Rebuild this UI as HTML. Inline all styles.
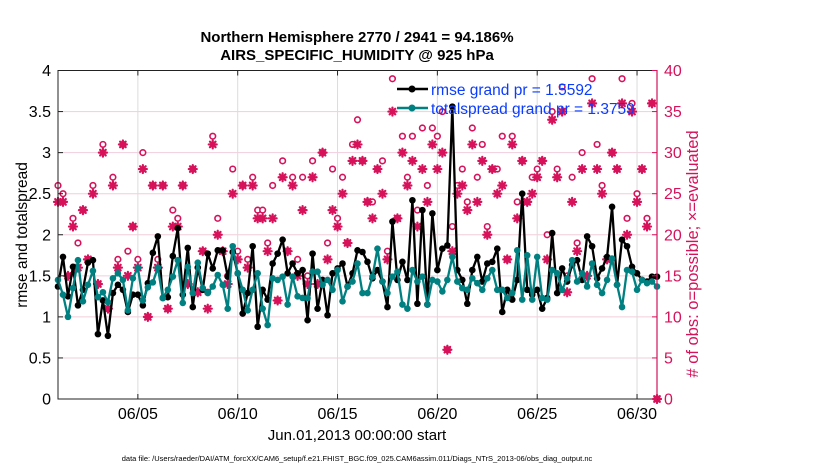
<!DOCTYPE html>
<html><head><meta charset="utf-8"><style>
body{margin:0;background:#fff;}
svg{display:block;font-family:"Liberation Sans",Arial,sans-serif;}
</style></head><body>
<svg id="chart" width="830" height="470" viewBox="0 0 830 470">
<g id="grid"></g>
<g id="marks"></g>
<g id="axes"></g>
<text x="357" y="42" font-size="15" font-weight="bold" text-anchor="middle">Northern Hemisphere 2770 / 2941 = 94.186%</text>
<text x="357" y="60" font-size="15" font-weight="bold" text-anchor="middle">AIRS_SPECIFIC_HUMIDITY @ 925 hPa</text>
<text transform="translate(27,235) rotate(-90)" font-size="15.5" text-anchor="middle">rmse and totalspread</text>
<text transform="translate(698,254) rotate(-90)" font-size="16.5" fill="#d6125a" text-anchor="middle"># of obs: o=possible; ×=evaluated</text>
<text x="357" y="440" font-size="15" text-anchor="middle">Jun.01,2013 00:00:00 start</text>
<text x="357" y="461" font-size="7.5" text-anchor="middle">data file: /Users/raeder/DAI/ATM_forcXX/CAM6_setup/f.e21.FHIST_BGC.f09_025.CAM6assim.011/Diags_NTrS_2013-06/obs_diag_output.nc</text>
<g id="legend">
 <line x1="397" y1="89" x2="428" y2="89" stroke="#000" stroke-width="2.5"/>
 <circle cx="412" cy="89" r="3.5" fill="#000"/>
 <text x="431" y="95" font-size="15.5" fill="#0a3cff">rmse grand pr = 1.5592</text>
 <line x1="397" y1="108" x2="428" y2="108" stroke="#008080" stroke-width="2.5"/>
 <circle cx="412" cy="108" r="3.5" fill="#008080"/>
 <text x="431" y="114" font-size="15.5" fill="#0a3cff">totalspread grand pr = 1.3759</text>
</g>
</svg>
<script>
const rmse=[1.37,1.73,1.25,1.61,1.14,1.33,1.66,1.69,0.79,1.2,0.77,1.29,1.39,1.33,1.06,1.27,1.27,1.14,1.41,1.78,1.98,1.23,1.24,1.74,2.08,1.27,1.84,1.12,1.6,1.33,1.77,
1.59,1.81,1.81,1.49,1.79,1.53,1.04,1.29,1.86,0.88,1.33,1.21,1.65,1.77,1.94,1.53,1.65,1.53,1.57,0.96,1.77,1.10,1.45,1.02,1.53,1.59,1.65,1.37,1.53,1.81,
1.79,1.67,1.47,1.57,1.43,1.12,2.16,1.45,1.67,1.45,2.42,1.16,2.30,1.15,2.26,1.57,1.83,1.87,3.56,1.57,1.45,1.16,1.57,1.73,1.43,1.65,1.67,1.83,1.06,1.33,
1.21,1.45,2.50,1.33,1.27,1.33,1.10,1.23,2.02,1.29,1.59,1.43,1.63,1.69,1.45,1.98,1.86,1.47,1.59,1.73,2.34,1.39,1.94,1.86,1.61,1.53,1.45,1.43,1.49,1.49];
const spread=[1.45,1.27,1.0,1.35,1.69,1.19,1.39,1.56,1.24,1.3,1.18,1.47,1.53,1.45,1.08,1.47,1.6,1.2,1.36,1.42,1.6,1.23,1.33,1.49,1.69,1.17,1.61,1.29,1.66,1.35,1.29,
1.37,1.51,1.39,1.10,1.86,1.53,1.33,1.08,1.33,1.53,1.10,0.90,1.47,1.45,1.49,1.15,1.49,1.25,1.23,1.23,1.55,1.55,1.39,1.45,1.33,1.57,1.19,1.37,1.43,1.65,
1.29,1.29,1.49,1.83,1.43,1.29,1.49,1.55,1.15,1.10,1.57,1.43,1.49,1.15,1.45,1.43,1.31,1.45,1.73,1.43,1.35,1.33,1.47,1.41,1.33,1.47,1.57,1.33,1.33,1.23,
1.29,1.81,1.21,1.75,1.21,1.73,1.23,1.21,1.57,1.53,1.33,1.47,1.69,1.43,1.53,1.37,1.65,1.39,1.29,1.45,1.71,1.39,1.12,1.57,1.55,1.33,1.45,1.41,1.43,1.37];
const possible=[26,25,15,22,19,23,17,26,14,31,11,27,17,31,18,21,17,30,10,26,17,26,11,23,22,26,14,28,13,18,13,
32,22,18,15,28,18,26,17,27,23,23,19,26,12,29,18,27,17,27,15,29,14,30,19,28,22,27,19,31,34,
29,24,24,28,29,18,39,22,32,27,32,23,33,26,33,32,35,6,21,26,28,24,33,27,31,21,28,28,32,17,
32,24,29,24,27,28,29,20,35,28,38,15,27,19,30,15,39,31,26,17,30,28,39,22,36,25,28,22,36,0];
const evaluated=[24,24,15,21,16,23,17,25,14,30,11,26,16,31,15,21,16,28,10,26,16,26,11,21,21,26,14,28,13,18,11,
31,20,18,14,25,17,26,16,26,22,22,18,22,12,27,18,26,15,23,14,27,14,30,17,23,21,25,19,29,31,
29,24,22,28,25,17,35,22,30,26,29,21,28,24,31,28,30,6,18,25,26,23,31,24,29,20,28,25,26,17,
31,22,29,24,25,27,29,17,34,27,35,13,24,18,28,15,36,28,25,17,30,28,36,20,35,24,28,21,36,0];
const dateTicks=[5,10,15,20,25,30];
const dateLabels=["06/05","06/10","06/15","06/20","06/25","06/30"];
const leftTicks=[0,0.5,1,1.5,2,2.5,3,3.5,4];
const rightTicks=[0,5,10,15,20,25,30,35,40];

const X0=58,X1=657,Y0=399,Y1=70.5,T0=1,T1=31;
const xs=t=>X0+(t-T0)/(T1-T0)*(X1-X0);
const yl=v=>Y0-v/4*(Y0-Y1);
const yr=c=>Y0-c/40*(Y0-Y1);
const tOf=i=>1+i*0.25;
const NS="http://www.w3.org/2000/svg";
function mk(tag,attrs,parent){const e=document.createElementNS(NS,tag);for(const k in attrs)e.setAttribute(k,attrs[k]);parent.appendChild(e);return e;}
const grid=document.getElementById('grid'),marks=document.getElementById('marks'),axes=document.getElementById('axes');
const MAG="#d6125a";

rightTicks.forEach(c=>{const l=mk('line',{x1:X0,x2:X1,y1:yr(c),y2:yr(c),stroke:"#f2cddb","stroke-width":1},grid);

});
dateTicks.forEach(d=>{const l=mk('line',{x1:xs(d),x2:xs(d),y1:Y1,y2:Y0,stroke:"#dcdcdc","stroke-width":1},grid);

});

function star(cx,cy){const g=mk('g',{stroke:MAG,"stroke-width":2.2,"stroke-linecap":"round"},marks);


const r=4;[[r,0],[0,r],[0.7*r,0.7*r],[0.7*r,-0.7*r]].forEach(([dx,dy])=>mk('line',{x1:cx-dx,y1:cy-dy,x2:cx+dx,y2:cy+dy},g));}
possible.forEach((c,i)=>{const e=mk('circle',{cx:xs(tOf(i)),cy:yr(c),r:2.8,fill:"#fff",stroke:MAG,"stroke-width":1.6},marks);

});
evaluated.forEach((c,i)=>star(xs(tOf(i)),yr(c)));

function series(vals,color,name){
const p=mk('polyline',{points:vals.map((v,i)=>xs(tOf(i))+","+yl(v)).join(" "),fill:"none",stroke:color,"stroke-width":2.3,"stroke-linejoin":"round"},marks);


vals.forEach((v,i)=>{const c=mk('circle',{cx:xs(tOf(i)),cy:yl(v),r:3.3,fill:color},marks);

});}
series(rmse,"#000","rmse");
series(spread,"#008080","totalspread");

const box=mk('rect',{x:X0,y:Y1,width:X1-X0,height:Y0-Y1,fill:"none",stroke:"#222","stroke-width":1},axes);


const ra=mk('line',{x1:X1,x2:X1,y1:Y1,y2:Y0,stroke:MAG,"stroke-width":1.2},axes);


leftTicks.forEach(v=>{mk('line',{x1:X0,x2:X0+5,y1:yl(v),y2:yl(v),stroke:"#222"},axes);
const t=mk('text',{x:X0-7,y:yl(v)+5.5,"font-size":16,"text-anchor":"end"},axes);t.textContent=String(v);

});
rightTicks.forEach(c=>{mk('line',{x1:X1-5,x2:X1,y1:yr(c),y2:yr(c),stroke:MAG},axes);
const t=mk('text',{x:X1+7,y:yr(c)+5.5,"font-size":16,fill:MAG},axes);t.textContent=String(c);

});
dateTicks.forEach((d,i)=>{mk('line',{x1:xs(d),x2:xs(d),y1:Y0,y2:Y0-5,stroke:"#222"},axes);mk('line',{x1:xs(d),x2:xs(d),y1:Y1,y2:Y1+5,stroke:"#222"},axes);
const t=mk('text',{x:xs(d),y:Y0+20,"font-size":16,"text-anchor":"middle"},axes);t.textContent=dateLabels[i];

});
</script>
</body></html>
